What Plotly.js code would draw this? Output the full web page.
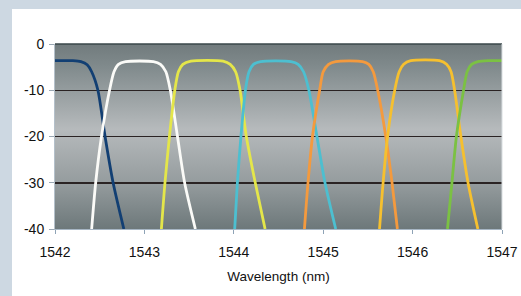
<!DOCTYPE html>
<html>
<head>
<meta charset="utf-8">
<script src="https://cdn.plot.ly/plotly-3.0.1.min.js"></script>
<style>
html,body{margin:0;padding:0;width:521px;height:296px;overflow:hidden;background:#cdd8e2;}
#panel{position:absolute;left:12px;top:9px;right:0;bottom:0;background:#ffffff;}
#chart{position:absolute;left:0;top:0;width:521px;height:296px;}
</style>
</head>
<body>
<div id="panel"></div>
<div id="chart"></div>
<script>
// Channel filter responses (wavelength in nm, attenuation in dB)
const ch1_x = [1542.0, 1542.2, 1542.29, 1542.36, 1542.41, 1542.48, 1542.56, 1542.65, 1542.77];
const ch1_y = [-3.6, -3.6, -3.8, -4.5, -6, -10, -20, -30, -40];

const ch2_x = [1542.41, 1542.455, 1542.52, 1542.61, 1542.66, 1542.71, 1542.79, 1543.1, 1543.18, 1543.24, 1543.29, 1543.37, 1543.45, 1543.57];
const ch2_y = [-40, -30, -20, -10, -6, -4.4, -3.8, -3.8, -4.4, -6, -10, -20, -30, -40];

const ch3_x = [1543.19, 1543.23, 1543.28, 1543.34, 1543.38, 1543.43, 1543.52, 1543.88, 1543.96, 1544.02, 1544.07, 1544.14, 1544.24, 1544.35];
const ch3_y = [-40, -30, -20, -10, -6, -4.4, -3.7, -3.7, -4.4, -6, -10, -20, -30, -40];

const ch4_x = [1544.01, 1544.04, 1544.08, 1544.13, 1544.17, 1544.22, 1544.3, 1544.64, 1544.72, 1544.78, 1544.84, 1544.93, 1545.02, 1545.14];
const ch4_y = [-40, -30, -20, -10, -6, -4.4, -3.8, -3.8, -4.4, -6, -10, -20, -30, -40];

const ch5_x = [1544.79, 1544.83, 1544.88, 1544.96, 1545.0, 1545.06, 1545.14, 1545.44, 1545.51, 1545.56, 1545.61, 1545.70, 1545.77, 1545.83];
const ch5_y = [-40, -30, -20, -10, -6, -4.4, -3.8, -3.8, -4.4, -6, -10, -20, -30, -40];

const ch6_x = [1545.63, 1545.67, 1545.72, 1545.80, 1545.85, 1545.90, 1545.98, 1546.30, 1546.38, 1546.43, 1546.47, 1546.54, 1546.62, 1546.73];
const ch6_y = [-40, -30, -20, -10, -6, -4.4, -3.6, -3.6, -4.4, -6, -10, -20, -30, -40];

const ch7_x = [1546.39, 1546.44, 1546.49, 1546.57, 1546.61, 1546.66, 1546.73, 1546.85, 1547.0];
const ch7_y = [-40, -30, -20, -10, -6, -4.4, -3.8, -3.6, -3.6];

const xTicks = [1542, 1543, 1544, 1545, 1546, 1547];
const yTicks = [0, -10, -20, -30, -40];
const xTitle = "Wavelength (nm)";

const colors = ['#123f73', '#fbfbf8', '#e4e64a', '#4dbfd0', '#f49a3e', '#f6c02f', '#7bc143'];
const series = [[ch1_x, ch1_y], [ch2_x, ch2_y], [ch3_x, ch3_y], [ch4_x, ch4_y], [ch5_x, ch5_y], [ch6_x, ch6_y], [ch7_x, ch7_y]];

const traces = series.map((s, i) => ({
  x: s[0], y: s[1], type: 'scatter', mode: 'lines',
  line: {color: colors[i], width: 2.8, shape: 'spline', smoothing: 0.7},
  hoverinfo: 'skip', showlegend: false
}));

const svg = "<svg xmlns='http://www.w3.org/2000/svg' width='10' height='100' preserveAspectRatio='none'>" +
  "<defs><linearGradient id='g' x1='0' y1='0' x2='0' y2='1'>" +
  "<stop offset='0' stop-color='#717b7d'/>" +
  "<stop offset='0.12' stop-color='#808a8c'/>" +
  "<stop offset='0.46' stop-color='#b6babc'/>" +
  "<stop offset='0.75' stop-color='#959c9e'/>" +
  "<stop offset='1' stop-color='#6d787a'/>" +
  "</linearGradient></defs><rect width='10' height='100' fill='url(#g)'/></svg>";
const bg = 'data:image/svg+xml;charset=utf-8,' + encodeURIComponent(svg);

const layout = {
  width: 521, height: 296,
  margin: {l: 55, r: 19, t: 44, b: 67},
  paper_bgcolor: 'rgba(0,0,0,0)',
  plot_bgcolor: 'rgba(0,0,0,0)',
  font: {family: 'Liberation Sans, Arial, sans-serif', size: 14, color: '#111111'},
  xaxis: {
    range: [1542, 1547], tickvals: xTicks, ticktext: xTicks.map(String),
    showgrid: false, zeroline: false,
    showline: true, linecolor: '#a7b6c4', linewidth: 1,
    ticks: 'outside', ticklen: 4, tickcolor: '#8ea3b6',
    ticklabelstandoff: 6,
    tickfont: {size: 14, color: '#111111'},
    title: {text: xTitle, font: {size: 13.5, color: '#111111'}, standoff: 12}
  },
  yaxis: {
    range: [-40, 0], tickvals: yTicks, ticktext: yTicks.map(String),
    showgrid: true, gridcolor: '#2a2323', gridwidth: 1.5,
    zeroline: false,
    showline: true, linecolor: '#b4c0ca', linewidth: 1,
    ticks: 'outside', ticklen: 5, tickcolor: '#9aa8b4',
    ticklabelstandoff: 2,
    tickfont: {size: 14, color: '#111111'}
  },
  images: [{
    source: bg, xref: 'paper', yref: 'paper', x: 0, y: 1, sizex: 1, sizey: 1,
    xanchor: 'left', yanchor: 'top', sizing: 'stretch', layer: 'below'
  }],
  shapes: [
    {type: 'line', xref: 'paper', yref: 'paper', x0: 0, x1: 1, y0: 1, y1: 1, line: {color: '#3a474a', width: 1.5}},
    {type: 'line', xref: 'paper', yref: 'paper', x0: 1, x1: 1, y0: 0, y1: 1, line: {color: '#d8dde0', width: 1}}
  ]
};

Plotly.newPlot('chart', traces, layout, {staticPlot: true, displayModeBar: false});
</script>
</body>
</html>
